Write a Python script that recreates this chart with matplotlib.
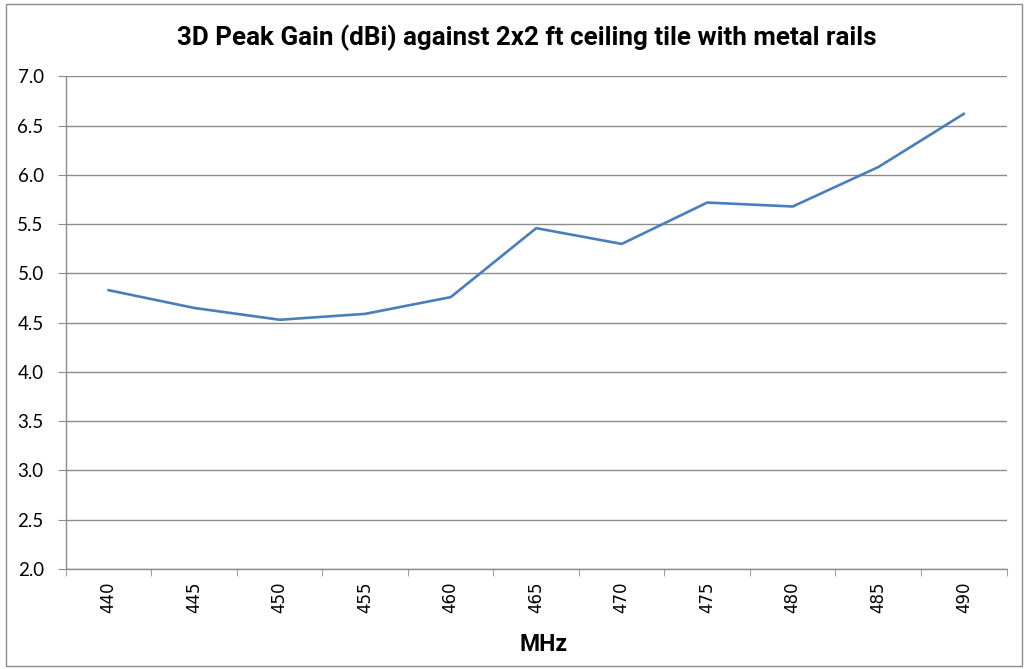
import matplotlib
matplotlib.use('Agg')
import matplotlib.pyplot as plt
import numpy as np

# category labels (MHz) and 3D peak gain values (dBi)
freqs = ['440', '445', '450', '455', '460', '465', '470', '475', '480', '485', '490']
gain = [4.83, 4.65, 4.53, 4.59, 4.76, 5.46, 5.30, 5.72, 5.68, 6.08, 6.62]

plt.rcParams['font.family'] = ['Lato', 'DejaVu Sans']

fig = plt.figure(figsize=(10.26, 6.69), dpi=100)
ax = fig.add_axes([0.0643, 0.1495, 0.9167, 0.7362])

x = np.arange(len(freqs))
ax.plot(x, gain, color='#4A7EBB', lw=1.9)

ax.set_xlim(-0.5, len(freqs) - 0.5)
ax.set_ylim(2.0, 7.0)
yt = np.arange(2.0, 7.01, 0.5)
ax.set_yticks(yt)
ax.set_yticklabels(['%.1f' % v for v in yt], fontsize=13.5)
ax.yaxis.grid(True, color='#8c8c8c', lw=1)
ax.set_axisbelow(True)

# category labels centered, tick marks between categories
ax.set_xticks(x)
ax.set_xticklabels(freqs, rotation=90, fontsize=12, family=['DejaVu Sans'])
ax.tick_params(axis='x', length=0, pad=9)
ax.set_xticks(np.arange(-0.5, len(freqs), 1), minor=True)
ax.tick_params(axis='x', which='minor', length=5, color='#8c8c8c')
ax.tick_params(axis='y', length=6, color='#8c8c8c', pad=10)

for s in ['top', 'right']:
    ax.spines[s].set_visible(False)
for s in ['left', 'bottom']:
    ax.spines[s].set_color('#8c8c8c')
    ax.spines[s].set_linewidth(1)

ax.set_xlabel('MHz', fontsize=16.5, fontweight='bold', family=['Roboto', 'DejaVu Sans'])
ax.xaxis.set_label_coords(0.508, -0.13)
fig.text(0.513, 0.944, '3D Peak Gain (dBi) against 2x2 ft ceiling tile with metal rails',
         ha='center', va='center', fontsize=18.7, fontweight='bold',
         family=['Roboto', 'DejaVu Sans'])

# chart border
fig.add_artist(plt.Rectangle((0.006, 0.004), 0.99, 0.99, transform=fig.transFigure,
                             fill=False, edgecolor='#8c8c8c', lw=1))

fig.savefig('out.png', dpi=100)
